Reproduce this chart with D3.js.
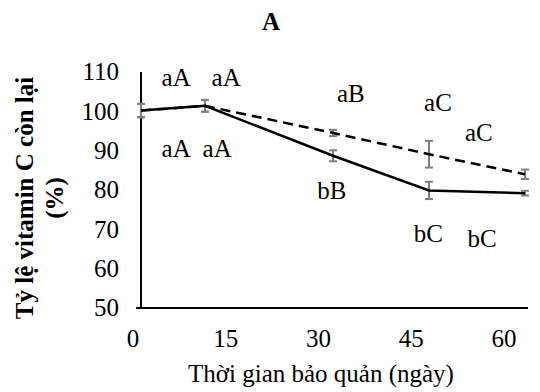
<!DOCTYPE html>
<html><head><meta charset="utf-8">
<script src="https://cdn.jsdelivr.net/npm/d3@7"></script>
<style>
body{margin:0;background:#fff;}
</style></head>
<body><svg id="c" width="540" height="392"></svg>
<script>
const days = [0, 10, 30, 45, 60];
const solidValues = [100.2, 101.4, 88.7, 79.9, 79.2];
const solidErrors = [1.7, 1.5, 1.4, 2.2, 0.6];
const dashedValues = [100.2, 101.4, 94.5, 89.1, 84.0];
const dashedErrors = [1.7, 1.5, 0.8, 3.4, 1.2];
const xTickLabels = [0, 15, 30, 45, 60];
const yTickLabels = [50, 60, 70, 80, 90, 100, 110];
const upperLetters = ["aA", "aA", "aB", "aC", "aC"];
const upperLetterDays = [5.5, 13.3, 32.8, 46.4, 52.8];
const upperLetterValues = [108.7, 108.7, 104.7, 102.4, 94.8];
const lowerLetters = ["aA", "aA", "bB", "bC", "bC"];
const lowerLetterDays = [5.5, 11.9, 29.8, 44.9, 53.3];
const lowerLetterValues = [90.7, 90.7, 80.0, 69.1, 67.8];

const FONT = "'Liberation Serif','Times New Roman',Tinos,'DejaVu Serif',serif";
const svg = d3.select("#c").attr("font-family", FONT);
const x = d3.scaleLinear().domain([0, 60]).range([141, 525]);
const xLab = d3.scaleLinear().domain([0, 60]).range([133, 504]);
const y = d3.scaleLinear().domain([50, 110]).range([308, 72]);
const fs = 25;

// title
svg.append("text").attr("x", 271).attr("y", 30).attr("text-anchor", "middle")
  .attr("font-size", fs).attr("font-weight", "bold").text("A");

// axes lines
svg.append("line").attr("x1", x(0)).attr("x2", x(0)).attr("y1", y(110)).attr("y2", y(50))
  .attr("stroke", "#000").attr("stroke-width", 2);
svg.append("line").attr("x1", x(0) - 5).attr("x2", x(60) + 3).attr("y1", y(50)).attr("y2", y(50))
  .attr("stroke", "#000").attr("stroke-width", 2);

// y tick labels
svg.selectAll(".yt").data(yTickLabels).join("text").attr("class", "yt")
  .attr("x", 119).attr("y", d => y(d)).attr("dy", "0.33em").attr("text-anchor", "end")
  .attr("font-size", fs).text(d => d);
// x tick labels
svg.selectAll(".xt").data(xTickLabels).join("text").attr("class", "xt")
  .attr("x", d => xLab(d)).attr("y", 347).attr("text-anchor", "middle")
  .attr("font-size", fs).text(d => d);

// axis titles
svg.append("text").attr("x", 321).attr("y", 382).attr("text-anchor", "middle")
  .attr("font-size", fs).text("Thời gian bảo quản (ngày)");
const yt = svg.append("text").attr("transform", "translate(33,198) rotate(-90)")
  .attr("text-anchor", "middle").attr("font-size", fs).attr("font-weight", "bold");
yt.append("tspan").attr("x", 0).attr("y", 0).text("Tỷ lệ vitamin C còn lại");
yt.append("tspan").attr("x", 0).attr("y", 30).text("(%)");

// error bars
function errBars(vals, errs) {
  const g = svg.append("g").attr("stroke", "#7f7f7f").attr("stroke-width", 2);
  days.forEach((d, i) => {
    const cx = x(d), lo = y(vals[i] - errs[i]), hi = y(vals[i] + errs[i]);
    g.append("line").attr("x1", cx).attr("x2", cx).attr("y1", lo).attr("y2", hi);
    g.append("line").attr("x1", cx - 4).attr("x2", cx + 4).attr("y1", lo).attr("y2", lo);
    g.append("line").attr("x1", cx - 4).attr("x2", cx + 4).attr("y1", hi).attr("y2", hi);
  });
}
errBars(dashedValues, dashedErrors);
errBars(solidValues, solidErrors);

const line = d3.line().x((d, i) => x(days[i])).y(d => y(d));
svg.append("path").datum(dashedValues).attr("d", line).attr("fill", "none")
  .attr("stroke", "#000").attr("stroke-width", 2.5).attr("stroke-dasharray", "10,6");
svg.append("path").datum(solidValues).attr("d", line).attr("fill", "none")
  .attr("stroke", "#000").attr("stroke-width", 2.5);

// letters
svg.selectAll(".ul").data(upperLetters).join("text").attr("class", "ul")
  .attr("x", (d, i) => x(upperLetterDays[i])).attr("y", (d, i) => y(upperLetterValues[i]))
  .attr("dy", "0.35em").attr("text-anchor", "middle").attr("font-size", fs).text(d => d);
svg.selectAll(".ll").data(lowerLetters).join("text").attr("class", "ll")
  .attr("x", (d, i) => x(lowerLetterDays[i])).attr("y", (d, i) => y(lowerLetterValues[i]))
  .attr("dy", "0.35em").attr("text-anchor", "middle").attr("font-size", fs).text(d => d);
</script></body></html>
